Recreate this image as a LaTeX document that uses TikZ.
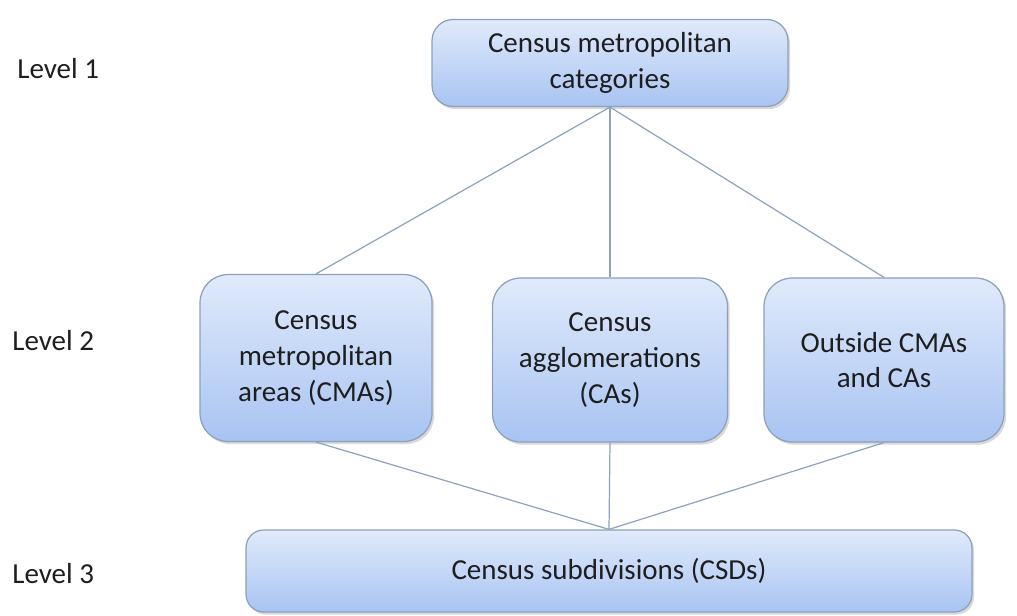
\documentclass[tikz,border=0pt]{standalone}
\usepackage{fontspec}
\setmainfont{Carlito}
\usepackage{tikz}
\usepackage{xcolor}
\usetikzlibrary{shadows}
\definecolor{BoxTop}{HTML}{E0EAFB}
\definecolor{BoxBot}{HTML}{A8C4F2}
\definecolor{BoxEdge}{HTML}{8CA0BC}
\definecolor{LinkGray}{HTML}{8FA3BF}
\definecolor{TextDark}{HTML}{1E1E1E}

\begin{document}
\begin{tikzpicture}[
      x=0.02cm,
      y=-0.02cm,
      font=\fontsize{16.5}{20.4}\selectfont,
      box/.style={draw=BoxEdge,line width=0.7pt,top color=BoxTop,bottom color=BoxBot,align=center,text=TextDark,inner sep=2pt,
        drop shadow={opacity=0.3,shadow xshift=1.2pt,shadow yshift=-1.5pt}},
      lvl/.style={anchor=west,text=TextDark,inner sep=0pt},
      link/.style={draw=LinkGray,line width=0.7pt}
    ]
      \useasboundingbox (0,0) rectangle (1017,615);

      \node[lvl] (lev1) at (17,69) {Level 1};
      \node[lvl] (lev2) at (12,341) {Level 2};
      \node[lvl] (lev3) at (12,574) {Level 3};

      \node[box,rounded corners=12pt,minimum width=7.12cm,minimum height=1.74cm] (cat) at (610,63) {Census metropolitan\\categories};
      \node[box,rounded corners=16pt,minimum width=4.64cm,minimum height=3.34cm] (cma) at (316,358) {Census\\metropolitan\\areas (CMAs)};
      \node[box,rounded corners=16pt,minimum width=4.70cm,minimum height=3.28cm] (ca) at (610,360) {Census\\agglomerations\\(CAs)};
      \node[box,rounded corners=16pt,minimum width=4.80cm,minimum height=3.28cm] (out) at (884,360) {Outside CMAs\\and CAs};
      \node[box,rounded corners=10pt,minimum width=14.52cm,minimum height=1.64cm] (csd) at (609,571) {Census subdivisions (CSDs)};

      \draw[link] (cat.south) -- (cma.north);
      \draw[link] (cat.south) -- (ca.north);
      \draw[link] (cat.south) -- (out.north);
      \draw[link] (cma.south) -- (csd.north);
      \draw[link] (ca.south) -- (csd.north);
      \draw[link] (out.south) -- (csd.north);
    \end{tikzpicture}
\end{document}
